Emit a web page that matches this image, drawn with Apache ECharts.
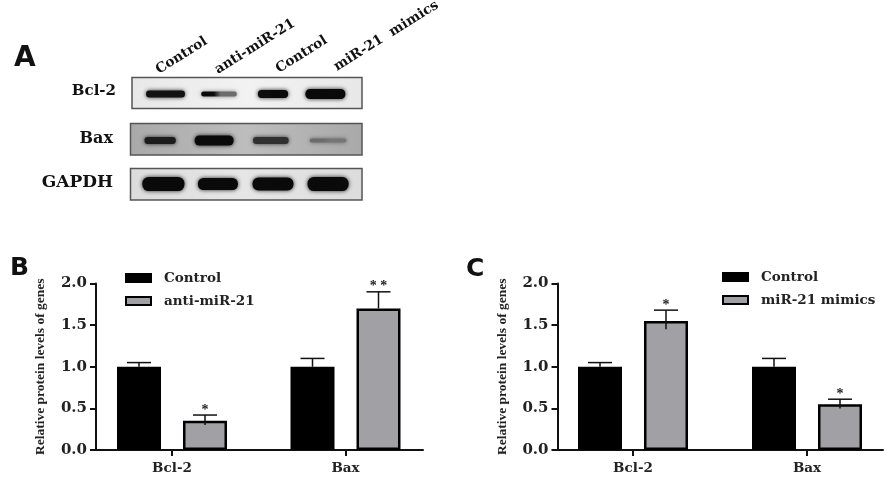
<!DOCTYPE html>
<html><head><meta charset="utf-8">
<style>html,body{margin:0;padding:0;background:#fff}#c{width:886px;height:478px;filter:blur(0.45px)}</style>
<script src="https://cdn.jsdelivr.net/npm/echarts@6/dist/echarts.min.js"></script></head>
<body><div id="c"></div>
<script>
const groups = ['Bcl-2', 'Bax'];
const yTicks = [0, 0.5, 1.0, 1.5, 2.0];
// Panel B
const bControl = [1.0, 1.0];
const bControlHigh = [1.05, 1.1];
const bAnti = [0.35, 1.7];
const bAntiHigh = [0.42, 1.9];
const bAntiLow = [0.3, 1.7];
const bStars = ['*', '**'];
// Panel C
const cControl = [1.0, 1.0];
const cControlHigh = [1.05, 1.1];
const cMimics = [1.55, 0.55];
const cMimicsHigh = [1.68, 0.61];
const cMimicsLow = [1.45, 0.5];
const cStars = ['*', '*'];
// Panel A blot: rows by lanes
const lanes = ['Control', 'anti-miR-21', 'Control', 'miR-21  mimics'];
const rows = ['Bcl-2', 'Bax', 'GAPDH'];
const bandDarkLeft = [[.95, 1, .98, 1], [.88, 1, .75, .35], [1, 1, 1, 1]];
const bandDarkRight = [[.95, .35, 1, 1], [.88, 1, .75, .28], [1, 1, 1, 1]];
const bandWidth = [[.72, .66, .56, .74], [.58, .72, .66, .68], [.78, .74, .76, .76]];
const bandThick = [[7, 5, 8, 10], [7, 10, 7, 4], [14, 12, 13, 14]];
const bandShift = [[.01, 0, 0, -.03], [-.09, -.09, -.04, .02], [-.03, -.02, 0, .02]];

const serif = '"Liberation Serif", serif';
const wide = '"DejaVu Serif", serif';
const DARK = '#000', GRAY = '#a0a0a5';
const BAR_W = 44, OFFSET = 33;

const blotData = [];
rows.forEach((r, ri) => lanes.forEach((l, li) => blotData.push([li, ri, bandDarkLeft[ri][li], bandDarkRight[ri][li], bandWidth[ri][li], bandThick[ri][li], bandShift[ri][li]])));

function shade(d) { const v = Math.round(10 + (1 - d) * 150); return `rgb(${v},${v},${v})`; }

function renderBand(params, api) {
  const p = api.coord([api.value(0), api.value(1)]);
  const step = api.size([1, 0])[0];
  const w = step * api.value(4), h = api.value(5);
  const cx = p[0] + step * api.value(6);
  const nudge = [0, 1.5, 0][api.value(1)];
  return {
    type: 'rect',
    shape: { x: cx - w / 2, y: p[1] + nudge - h / 2, width: w, height: h, r: h / 2.2 },
    style: {
      fill: new echarts.graphic.LinearGradient(0, 0, 1, 0, [
        { offset: 0, color: shade(api.value(2)) }, { offset: .35, color: shade(api.value(2)) },
        { offset: .55, color: shade(api.value(3)) }, { offset: 1, color: shade(api.value(3)) }]),
      shadowBlur: 4, shadowColor: 'rgba(0,0,0,' + (0.25 + 0.6 * api.value(3)) + ')'
    }
  };
}

function errorSeries(name, sign, high, low, stars, axisIdx) {
  return {
    type: 'custom', name: name + ' error', xAxisIndex: axisIdx, yAxisIndex: axisIdx, z: 5, silent: true,
    data: high.map((h, i) => [i, h, low[i]]),
    encode: { x: 0, y: 1 },
    renderItem(params, api) {
      const top = api.coord([api.value(0), api.value(1)]);
      const bot = api.coord([api.value(0), api.value(2)]);
      const x = top[0] + sign * OFFSET;
      const lineStyle = { stroke: '#111', lineWidth: 1.5 };
      const kids = [
        { type: 'line', shape: { x1: x, y1: top[1], x2: x, y2: bot[1] }, style: lineStyle },
        { type: 'line', shape: { x1: x - 12, y1: top[1], x2: x + 12, y2: top[1] }, style: lineStyle }
      ];
      const s = stars ? stars[params.dataIndex] : '';
      if (s) kids.push({ type: 'text', style: { text: s.split('').join(' '), x, y: top[1] - 12, align: 'center', verticalAlign: 'top', font: 'bold 14px ' + serif, fill: '#222' } });
      return { type: 'group', children: kids };
    }
  };
}

const P = [
  { barLeft: 172, barW: 173.5, axLeft: 96, axW: 327, top: 283.5, h: 166.5 },
  { barLeft: 633, barW: 174, axLeft: 557.5, axW: 325.5, top: 283.5, h: 166.5 }
];

const grid = [], xAxis = [], yAxis = [];
P.forEach(p => {
  grid.push({ left: p.barLeft, width: p.barW, top: p.top, height: p.h });
  xAxis.push({
    type: 'category', data: groups, gridIndex: grid.length - 1, boundaryGap: false,
    axisLine: { show: false },
    axisTick: { show: true, alignWithLabel: true, length: 6, lineStyle: { color: '#111', width: 2 } },
    axisLabel: { interval: 0, margin: 11, color: '#222', fontFamily: wide, fontWeight: 'bold', fontSize: 13.5 }
  });
  yAxis.push({ type: 'value', gridIndex: grid.length - 1, min: 0, max: 2, interval: 0.5, show: false });
});
P.forEach(p => {
  grid.push({ left: p.axLeft, width: p.axW, top: p.top, height: p.h });
  xAxis.push({
    type: 'category', data: groups, gridIndex: grid.length - 1,
    axisLine: { show: true, lineStyle: { color: '#111', width: 2 } }, axisTick: { show: false }, axisLabel: { show: false }
  });
  yAxis.push({
    type: 'value', gridIndex: grid.length - 1, min: yTicks[0], max: yTicks[yTicks.length - 1], interval: 0.5,
    splitLine: { show: false },
    axisLine: { show: true, lineStyle: { color: '#111', width: 2 } },
    axisTick: { show: true, length: 6, lineStyle: { color: '#111', width: 2 } },
    axisLabel: { margin: 9, color: '#222', fontFamily: wide, fontWeight: 'bold', fontSize: 15, formatter: v => v.toFixed(1) },
    name: 'Relative protein levels of genes', nameLocation: 'middle', nameGap: 48, nameRotate: 90,
    nameTextStyle: { color: '#222', fontFamily: serif, fontWeight: 'bold', fontSize: 13.5 }
  });
});
// blot grid
grid.push({ left: 138, width: 216, top: 71.5, height: 135 });
xAxis.push({ type: 'category', data: lanes.map((l, i) => i + ':' + l), gridIndex: 4, show: false });
yAxis.push({ type: 'category', data: rows, gridIndex: 4, inverse: true, show: false });

function barSeries(name, data, color, idx) {
  return { type: 'bar', name, data, xAxisIndex: idx, yAxisIndex: idx, barWidth: BAR_W, barGap: '50%', z: 3, clip: false,
    itemStyle: { color, borderColor: '#000', borderWidth: 2.5 } };
}

const series = [
  barSeries('Control', bControl, DARK, 0),
  barSeries('anti-miR-21', bAnti, GRAY, 0),
  barSeries('Control', cControl, DARK, 1),
  barSeries('miR-21 mimics', cMimics, GRAY, 1),
  errorSeries('b control', -1, bControlHigh, bControl, null, 0),
  errorSeries('b anti', 1, bAntiHigh, bAntiLow, bStars, 0),
  errorSeries('c control', -1, cControlHigh, cControl, null, 1),
  errorSeries('c mimics', 1, cMimicsHigh, cMimicsLow, cStars, 1),
  { type: 'custom', name: 'blot', xAxisIndex: 4, yAxisIndex: 4, z: 4, silent: true, data: blotData, encode: { x: 0, y: 1 }, renderItem: renderBand }
];

function frame(x, y, w, h, c1, c2) {
  return { type: 'rect', z: 1, shape: { x, y, width: w, height: h },
    style: { fill: new echarts.graphic.LinearGradient(0, 0, 1, 0, [{ offset: 0, color: c1 }, { offset: .5, color: c2 }, { offset: 1, color: c1 }]), stroke: '#555', lineWidth: 1.5 } };
}
function label(text, x, y, opt) {
  return { type: 'text', z: 6, x, y, rotation: opt.rot || 0, style: { text, fill: '#111', font: opt.font, align: opt.align || 'left', verticalAlign: 'middle' } };
}
const rowLabelX = [116, 113, 113], rowLabelY = [91, 139, 183], rowLabelSize = [15, 16, 17];
const laneLabelX = [157, 216, 277, 335], laneLabelY = [71, 71, 70, 68];
const R = 32 * Math.PI / 180;
const graphic = [
  frame(132, 77.5, 230, 31, '#e8e8e8', '#f2f2f2'),
  frame(130.5, 123.5, 231.5, 31.5, '#a9a9a9', '#bdbdbd'),
  frame(130.5, 168.5, 231.5, 31.5, '#dcdcdc', '#e6e6e6'),
  ...rows.map((r, i) => label(r, rowLabelX[i], rowLabelY[i], { font: 'bold ' + rowLabelSize[i] + 'px ' + wide, align: 'right' })),
  ...lanes.map((l, i) => label(l, laneLabelX[i], laneLabelY[i], { font: 'bold 13.7px ' + wide, rot: R })),
  label('A', 14, 59, { font: 'bold 28px "DejaVu Sans", sans-serif' }),
  label('B', 10, 268, { font: 'bold 25px "DejaVu Sans", sans-serif' }),
  label('C', 466, 269, { font: 'bold 25px "DejaVu Sans", sans-serif' })
];
const legendText = { color: '#222', fontFamily: wide, fontWeight: 'bold', fontSize: 13.5, padding: [0, 0, 0, 8] };
const legendBase = { orient: 'vertical', padding: 0, icon: 'rect', itemWidth: 25, itemHeight: 8, itemGap: 9, textStyle: legendText, selectedMode: false };
const legend = [
  Object.assign({ left: 125, top: 271, data: ['Control', 'anti-miR-21'] }, legendBase),
  Object.assign({ left: 722, top: 270, data: ['Control', 'miR-21 mimics'] }, legendBase)
];
const chart = echarts.init(document.getElementById('c'), null, { renderer: 'canvas' });
chart.setOption({ animation: false, backgroundColor: '#fff', grid, xAxis, yAxis, series, graphic, legend });
</script></body></html>
